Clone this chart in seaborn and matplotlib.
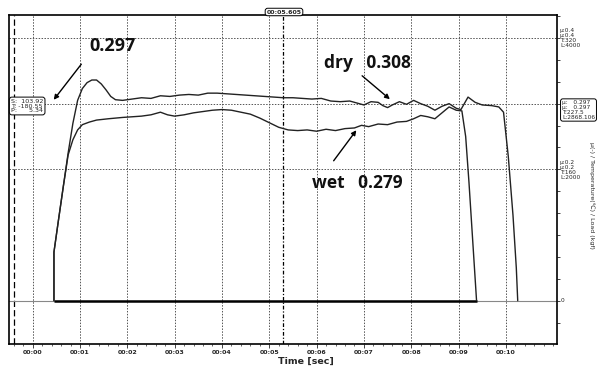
import matplotlib
matplotlib.use("Agg")
import matplotlib.pyplot as plt
import seaborn as sns
import pandas as pd
import numpy as np
from matplotlib.ticker import MultipleLocator, FixedLocator

# ---------------- data ----------------
t_dry = [0.45, 0.45, 0.55, 0.65, 0.75, 0.85, 0.95, 1.05, 1.15, 1.25, 1.35, 1.45, 1.55, 1.65,
         1.75, 1.9, 2.1, 2.3, 2.5, 2.7, 2.9, 3.1, 3.3, 3.5, 3.7, 3.9, 4.1, 4.3, 4.5, 4.7, 4.9,
         5.1, 5.3, 5.5, 5.7, 5.9, 6.1, 6.3, 6.5, 6.7, 6.9, 7.0, 7.15, 7.3, 7.4, 7.5, 7.6, 7.75,
         7.9, 8.05, 8.2, 8.35, 8.5, 8.65, 8.8, 8.95, 9.05, 9.2, 9.35, 9.5, 9.7, 9.85, 9.95,
         10.05, 10.15, 10.22, 10.25]
mu_dry = [0.0, 0.074, 0.125, 0.175, 0.225, 0.27, 0.305, 0.323, 0.332, 0.336, 0.336, 0.33, 0.321,
          0.311, 0.306, 0.305, 0.307, 0.309, 0.308, 0.312, 0.311, 0.313, 0.314, 0.313, 0.316,
          0.316, 0.315, 0.314, 0.313, 0.312, 0.311, 0.310, 0.309, 0.309, 0.308, 0.307, 0.308,
          0.304, 0.303, 0.304, 0.300, 0.298, 0.303, 0.302, 0.297, 0.294, 0.298, 0.303, 0.299,
          0.305, 0.300, 0.296, 0.290, 0.296, 0.300, 0.293, 0.291, 0.310, 0.302, 0.298, 0.297,
          0.295, 0.287, 0.22, 0.13, 0.05, 0.0]

t_wet = [0.45, 0.45, 0.55, 0.65, 0.75, 0.85, 0.95, 1.05, 1.2, 1.35, 1.6, 1.9, 2.1, 2.3, 2.5,
         2.7, 2.85, 3.0, 3.2, 3.4, 3.6, 3.8, 4.0, 4.2, 4.4, 4.6, 4.8, 5.0, 5.2, 5.4, 5.6, 5.8,
         6.0, 6.2, 6.4, 6.6, 6.8, 6.95, 7.1, 7.3, 7.5, 7.7, 7.9, 8.05, 8.2, 8.35, 8.5, 8.65,
         8.8, 8.95, 9.07, 9.15, 9.22, 9.3, 9.38]
mu_wet = [0.0, 0.074, 0.125, 0.175, 0.222, 0.245, 0.26, 0.268, 0.272, 0.275, 0.277, 0.279,
          0.28, 0.281, 0.283, 0.287, 0.283, 0.281, 0.283, 0.286, 0.288, 0.290, 0.291, 0.290,
          0.287, 0.284, 0.278, 0.271, 0.264, 0.26, 0.259, 0.260, 0.258, 0.261, 0.259, 0.262,
          0.263, 0.267, 0.265, 0.269, 0.268, 0.272, 0.273, 0.277, 0.282, 0.28, 0.277, 0.286,
          0.295, 0.29, 0.289, 0.25, 0.18, 0.09, 0.0]

base_start, base_end = 0.45, 9.38
cursor_t = 5.29
x_ticks = list(range(0, 11))
x_tick_labels = [f"00:{s:02d}" for s in x_ticks]

# ---------------- figure ----------------
sns.set_style("white")
plt.rcParams['font.family'] = ['DejaVu Sans']
fig = plt.figure(figsize=(6.03, 3.68), dpi=100)
ax = fig.add_axes([9/603, 1-344/368, (557-9)/603, (344-15)/368])

ax.set_xlim(-0.5, 11.08)
ax.set_ylim(-0.066, 0.435)

# grid
for s in x_ticks:
    ax.axvline(s, color="#555555", lw=0.7, ls=(0, (1.5, 1.5)), zorder=1)
for yv in [0.2, 0.3, 0.4]:
    ax.axhline(yv, color="#555555", lw=0.7, ls=(0, (1.5, 1.5)), zorder=1)
ax.axvline(-0.39, color="black", lw=0.9, ls=(0, (5, 2.5)), zorder=2)
ax.axvline(cursor_t, color="black", lw=0.9, ls=(0, (3, 1.5, 1, 1.5)), zorder=2)

# baseline
ax.axhline(0, color="#888888", lw=0.8, zorder=2)
ax.hlines(0, base_start, base_end, color="black", lw=1.8, zorder=3)

df_dry = pd.DataFrame({"t": t_dry, "mu": mu_dry})
df_wet = pd.DataFrame({"t": t_wet, "mu": mu_wet})
sns.lineplot(data=df_dry, x="t", y="mu", sort=False, estimator=None, color="#222222", lw=1.0, ax=ax, zorder=4)
sns.lineplot(data=df_wet, x="t", y="mu", sort=False, estimator=None, color="#222222", lw=1.0, ax=ax, zorder=4)

ax.set_xlabel("")
ax.set_ylabel("")

# ticks
ax.xaxis.set_major_locator(FixedLocator(x_ticks))
ax.set_xticklabels(x_tick_labels, fontsize=4.5, fontweight="bold")
ax.xaxis.set_minor_locator(MultipleLocator(0.2))
ax.tick_params(axis="x", which="major", direction="out", length=3, width=0.6, pad=1.5, bottom=True)
ax.tick_params(axis="x", which="minor", direction="out", length=1.5, width=0.5, bottom=True)
ax.yaxis.tick_right()
ax.yaxis.set_major_locator(MultipleLocator(0.4/12))
ax.set_yticklabels([])
ax.tick_params(axis="y", which="major", direction="out", length=2.5, width=0.6, right=True, left=False)

for sp in ax.spines.values():
    sp.set_color("black")
    sp.set_linewidth(1.2)

fig.text(306/603, 1-361/368, "Time [sec]", ha="center", va="center", fontsize=6.8, fontweight="bold")

# right-hand labels
rt = dict(transform=fig.transFigure, fontsize=4.2, ha="left", va="center", linespacing=0.95)
fig.text(560/603, 1-38/368, "μ:0.4\nμ:0.4\nT:320\nL:4000", **rt)
fig.text(560/603, 1-170/368, "μ:0.2\nμ:0.2\nT:160\nL:2000", **rt)
fig.text(561/603, 1-300/368, "0", **rt)
fig.text(562/603, 1-110/368, "μ:   0.297\nμ:   0.297\nT:227.5\nL:2868.106", **rt,
         bbox=dict(boxstyle="round,pad=0.25,rounding_size=0.4", fc="white", ec="black", lw=0.7))
fig.text(592/603, 1-195/368, "μ(-) / Temperature(℃) / Load (kgf)", rotation=270,
         ha="center", va="center", fontsize=4.5)

# left box
fig.text(11/603, 1-106/368, "S:  103.92\nT: -180.55\nP:      5.34", transform=fig.transFigure,
         fontsize=4.6, ha="left", va="center", linespacing=0.95,
         bbox=dict(boxstyle="round,pad=0.25,rounding_size=0.4", fc="white", ec="black", lw=0.7))

# top cursor label
fig.text(284/603, 1-12/368, "00:05.605", fontsize=4.5, fontweight="bold", ha="center", va="center",
         bbox=dict(boxstyle="round,pad=0.2,rounding_size=0.4", fc="white", ec="black", lw=0.7))

# annotations
ann = dict(fontfamily="Open Sans", fontweight="bold", color="#111111")
fig.text(113/603, 1-46/368, "0.297", fontsize=13, ha="center", va="center", **ann)
fig.text(367/603, 1-63/368, "dry   0.308", fontsize=12.5, ha="center", va="center", **ann)
fig.text(357/603, 1-183/368, "wet   0.279", fontsize=12.5, ha="center", va="center", **ann)

arrow = dict(arrowstyle="-|>", color="black", lw=1.0, mutation_scale=7)
fig.patches.append(matplotlib.patches.FancyArrowPatch((83/603, 1-62/368), (52/603, 1-102/368),
                   transform=fig.transFigure, **arrow))
fig.patches.append(matplotlib.patches.FancyArrowPatch((360/603, 1-74/368), (392/603, 1-101/368),
                   transform=fig.transFigure, **arrow))
fig.patches.append(matplotlib.patches.FancyArrowPatch((332/603, 1-163/368), (358/603, 1-128/368),
                   transform=fig.transFigure, **arrow))

fig.savefig("out.png", dpi=100)
